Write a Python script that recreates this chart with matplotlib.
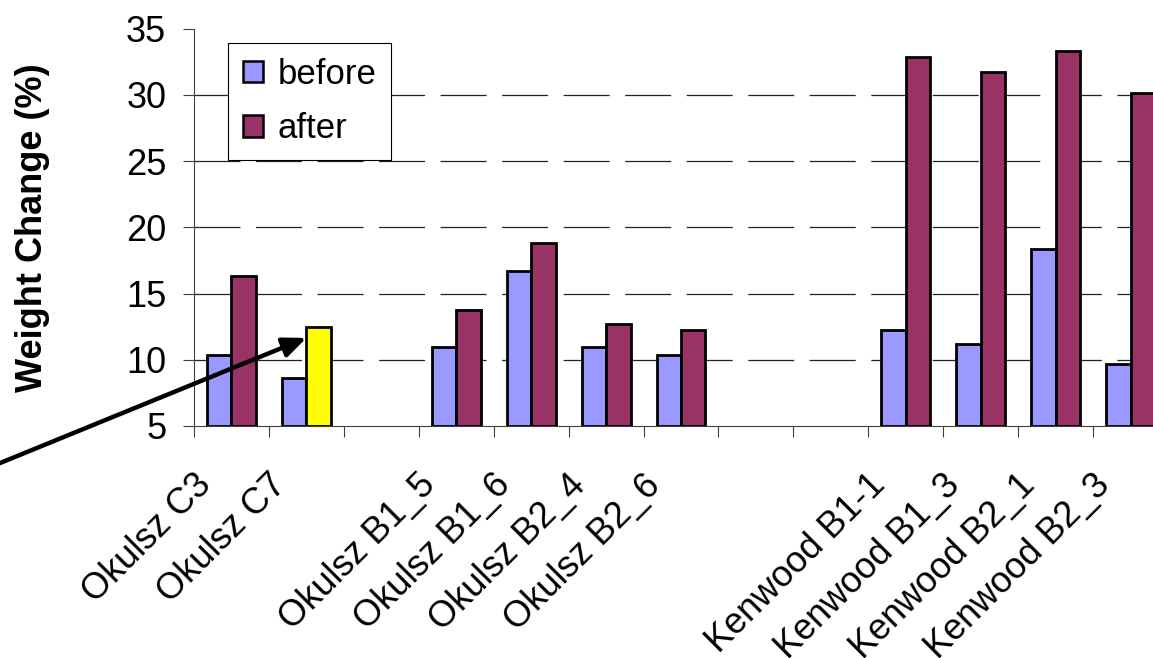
import numpy as np
import matplotlib
matplotlib.use("Agg")
import matplotlib.pyplot as plt
from matplotlib.transforms import ScaledTranslation

plt.rcParams["font.family"] = ["Liberation Sans", "DejaVu Sans"]
plt.rcParams["lines.scale_dashes"] = False

# Samples (blank strings leave an empty slot between groups)
categories = ["Okulsz C3", "Okulsz C7", "", "Okulsz B1_5", "Okulsz B1_6",
              "Okulsz B2_4", "Okulsz B2_6", "", "", "Kenwood B1-1",
              "Kenwood B1_3", "Kenwood B2_1", "Kenwood B2_3"]
before = [10.35, 8.65, np.nan, 11.0, 16.7, 11.0, 10.35, np.nan, np.nan,
          12.25, 11.2, 18.4, 9.65]
after = [16.3, 12.45, np.nan, 13.75, 18.85, 12.7, 12.25, np.nan, np.nan,
         32.9, 31.7, 33.3, 30.15]
highlight = 1          # sample whose "after" bar is emphasised
y_ticks = [5, 10, 15, 20, 25, 30, 35]

W, H = 1153, 658
fig = plt.figure(figsize=(W / 100, H / 100), dpi=100)
ax = fig.add_axes([194 / W, 1 - 426 / H, 974 / W, (426 - 28.7) / H])

ymin, ymax = y_ticks[0], y_ticks[-1]
x = np.arange(len(categories))
bw = 0.327
before_arr = np.array(before, dtype=float)
after_arr = np.array(after, dtype=float)

after_colors = ["#993366"] * len(categories)
after_colors[highlight] = "#FFFF00"

b1 = ax.bar(x - bw, before_arr - ymin, bw, bottom=ymin, align="edge",
            color="#9999FF", edgecolor="black", linewidth=2.0, zorder=3,
            label="before")
b2 = ax.bar(x, after_arr - ymin, bw, bottom=ymin, align="edge",
            color=after_colors, edgecolor="black", linewidth=2.0, zorder=3,
            label="after")

ax.set_xlim(-0.5, len(categories) - 0.5)
ax.set_ylim(ymin, ymax)

# y axis
ax.set_yticks(y_ticks)
ax.tick_params(axis="y", which="major", direction="out", length=8,
               width=0.8, color="#404040", pad=12, labelsize=26)
ax.set_ylabel("Weight Change (%)", fontsize=26, fontweight="bold")
ax.yaxis.set_label_coords(-0.148, 0.5)

# dashed horizontal grid
ax.yaxis.grid(True, color="#222222", linewidth=0.9,
              linestyle=(0, (33.1, 11.2)), zorder=0)
ax.set_axisbelow(True)
for val, gl in zip(y_ticks, ax.get_ygridlines()):
    if val in (ymin, ymax):
        gl.set_visible(False)

# x axis: ticks between categories, labels at centres
ax.set_xticks(np.arange(len(categories) + 1) - 0.5)
ax.set_xticklabels([])
ax.tick_params(axis="x", which="major", direction="out", length=8,
               width=0.8, color="#404040")
ax.set_xticks(x, minor=True)
ax.set_xticklabels(categories, minor=True, rotation=45, ha="right",
                   va="top", rotation_mode="anchor", fontsize=26)
ax.tick_params(axis="x", which="minor", length=0, pad=30)
shift = ScaledTranslation(-38 / 100, 0, fig.dpi_scale_trans)
for lab in ax.get_xticklabels(minor=True):
    lab.set_transform(lab.get_transform() + shift)

for side in ("top", "right"):
    ax.spines[side].set_visible(False)
for side in ("left", "bottom"):
    ax.spines[side].set_color("#404040")
    ax.spines[side].set_linewidth(0.8)

leg = ax.legend(handles=[b1, b2], loc="upper left",
                bbox_to_anchor=(228 / W, 1 - 43 / H),
                bbox_transform=fig.transFigure, fontsize=25,
                fancybox=False, shadow=False, framealpha=1,
                edgecolor="black", borderaxespad=0, borderpad=0.42,
                handlelength=0.58, handleheight=0.58, handletextpad=0.42,
                labelspacing=0.62)
leg.get_frame().set_linewidth(0.8)
leg.set_zorder(5)
for h in leg.legend_handles:
    h.set_linewidth(1.8)

# arrow pointing at the highlighted bar
ax.annotate("", xy=(highlight, 11.65), xycoords="data",
            xytext=(-30, H - 475.3), textcoords="figure pixels",
            arrowprops=dict(arrowstyle="-|>,head_length=0.7,head_width=0.3",
                            mutation_scale=20, lw=3.2, color="black",
                            shrinkA=0, shrinkB=0),
            annotation_clip=False, zorder=6)

fig.savefig("out.png", dpi=100)
